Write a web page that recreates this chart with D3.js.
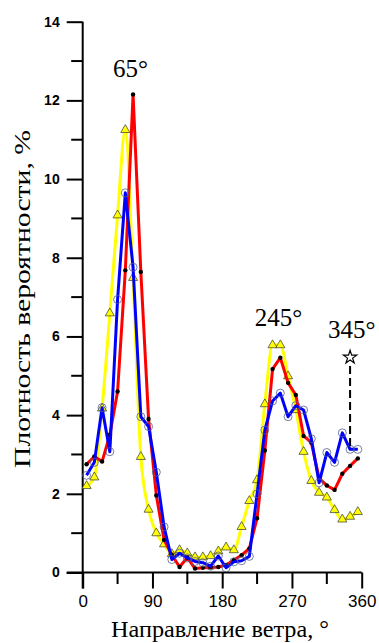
<!DOCTYPE html>
<html>
<head>
<meta charset="utf-8">
<script src="https://cdn.jsdelivr.net/npm/d3@7"></script>
<style>
  body { margin: 0; background: #fff; }
  svg { display: block; }
</style>
</head>
<body>
<div id="chart"></div>
<script>
// wind direction, degrees
const angles = [5, 15, 25, 35, 45, 55, 65, 75, 85, 95, 105, 115, 125, 135, 145, 155, 165, 175,
  185, 195, 205, 215, 225, 235, 245, 255, 265, 275, 285, 295, 305, 315, 325, 335, 345, 355];

// probability density, %
const redValues = [2.75, 2.95, 2.82, 3.5, 4.6, 7.68, 12.15, 7.64, 3.9, 1.96, 0.83, 0.45, 0.14, 0.38, 0.1, 0.12, 0.13, 0.14,
  0.19, 0.32, 0.44, 0.61, 1.38, 3.1, 5.17, 5.46, 4.82, 4.51, 3.47, 3.3, 2.4, 2.21, 2.1, 2.51, 2.71, 2.9];
const blueValues = [2.47, 2.8, 4.19, 3.07, 6.94, 9.65, 7.76, 3.96, 3.71, 2.55, 1.16, 0.33, 0.49, 0.37, 0.28, 0.25, 0.16, 0.42,
  0.12, 0.27, 0.3, 0.41, 2.0, 3.62, 4.36, 4.56, 3.96, 4.24, 4.13, 3.4, 2.28, 3.05, 2.8, 3.55, 3.13, 3.13];
const yellowValues = [2.2, 2.42, 4.17, 6.59, 9.08, 11.25, 7.49, 2.94, 1.6, 1.0, 0.72, 0.47, 0.57, 0.49, 0.39, 0.39, 0.42, 0.54,
  0.64, 0.57, 1.16, 1.82, 2.35, 4.28, 5.78, 5.78, 4.99, 4.13, 3.07, 2.33, 2.03, 1.91, 1.59, 1.35, 1.42, 1.54];

const xTicks = [0, 90, 180, 270, 360];
const yTicks = [0, 2, 4, 6, 8, 10, 12, 14];

// peak labels
const labelText = ['65°', '245°', '345°'];
const labelAngle = [65, 245, 345];
const labelValue = [12.6, 6.27, 5.95];
const labelShift = [-2.6, 6, 1.7];

// star marker at 345
const starAngle = 345;
const starValue = 5.47;
const dashFrom = 5.25;
const dashTo = 3.15;

const width = 379, height = 643;
const margin = { top: 21.7, right: 17.3, bottom: 70.5, left: 82.7 };

const svg = d3.select('#chart').append('svg')
  .attr('width', width)
  .attr('height', height);

const x = d3.scaleLinear().domain([0, 360]).range([margin.left, width - margin.right]);
const y = d3.scaleLinear().domain([0, 14]).range([height - margin.bottom, margin.top]);

// axes
const xAxis = svg.append('g')
  .attr('transform', `translate(0,${y(0)})`)
  .call(d3.axisBottom(x).tickValues(xTicks).tickSize(16).tickPadding(6).tickSizeOuter(0));
xAxis.append('g').selectAll('line')
  .data([45, 135, 225, 315])
  .join('line')
  .attr('x1', d => x(d)).attr('x2', d => x(d))
  .attr('y1', 0).attr('y2', 11.5)
  .attr('stroke', '#000').attr('stroke-width', 2);
xAxis.select('.domain').attr('d', `M${x(0) - 16},0H${x(360)}`);
xAxis.selectAll('.tick line').attr('stroke-width', 2);
xAxis.selectAll('.tick text')
  .attr('font-family', 'Arial, "Liberation Sans", sans-serif')
  .attr('font-size', 17)
  .attr('fill', '#000');

const yAxis = svg.append('g')
  .attr('transform', `translate(${x(0)},0)`)
  .call(d3.axisLeft(y).tickValues(yTicks).tickSize(16).tickPadding(7).tickSizeOuter(0));
yAxis.append('g').selectAll('line')
  .data([1, 3, 5, 7, 9, 11, 13])
  .join('line')
  .attr('y1', d => y(d)).attr('y2', d => y(d))
  .attr('x1', 0).attr('x2', -11.5)
  .attr('stroke', '#000').attr('stroke-width', 2);
yAxis.select('.domain').attr('d', `M0,${y(0) + 16}V${y(14)}`);
yAxis.selectAll('.tick line').attr('stroke-width', 2);
yAxis.selectAll('.tick text')
  .attr('font-family', 'Arial, "Liberation Sans", sans-serif')
  .attr('font-size', 14)
  .attr('font-weight', 'bold')
  .attr('fill', '#000');
svg.selectAll('.domain').attr('stroke', '#000').attr('stroke-width', 2);

// axis titles
svg.append('text')
  .attr('x', 220)
  .attr('y', 637)
  .attr('text-anchor', 'middle')
  .attr('font-family', '"Liberation Serif", "Times New Roman", serif')
  .attr('font-size', 23)
  .attr('textLength', 218)
  .attr('lengthAdjust', 'spacingAndGlyphs')
  .text('Направление ветра, °');

svg.append('text')
  .attr('transform', 'translate(30,299) rotate(-90)')
  .attr('text-anchor', 'middle')
  .attr('font-family', '"Liberation Serif", "Times New Roman", serif')
  .attr('font-size', 24)
  .attr('textLength', 338)
  .attr('lengthAdjust', 'spacingAndGlyphs')
  .text('Плотность вероятности, %');

// series
const series = [
  { values: yellowValues, color: '#ffff00', curve: d3.curveMonotoneX, marker: 'triangle' },
  { values: redValues, color: '#ff0000', curve: d3.curveLinear, marker: 'dot' },
  { values: blueValues, color: '#0000ff', curve: d3.curveLinear, marker: 'circle' }
];

series.forEach(s => {
  const pts = angles.map((a, i) => [a, s.values[i]]);
  const line = d3.line()
    .x(d => x(d[0]))
    .y(d => y(d[1]))
    .curve(s.curve);

  svg.append('path')
    .datum(pts)
    .attr('fill', 'none')
    .attr('stroke', s.color)
    .attr('stroke-width', 3)
    .attr('stroke-linejoin', 'round')
    .attr('d', line);

  const g = svg.append('g');
  if (s.marker === 'triangle') {
    g.selectAll('path')
      .data(pts)
      .join('path')
      .attr('transform', d => `translate(${x(d[0])},${y(d[1])})`)
      .attr('d', d3.symbol(d3.symbolTriangle, 36))
      .attr('fill', '#ffff00')
      .attr('stroke', '#333')
      .attr('stroke-width', 0.7);
  } else if (s.marker === 'dot') {
    g.selectAll('circle')
      .data(pts)
      .join('circle')
      .attr('cx', d => x(d[0]))
      .attr('cy', d => y(d[1]))
      .attr('r', 2.2)
      .attr('fill', '#000');
  } else {
    g.selectAll('circle')
      .data(pts)
      .join('circle')
      .attr('cx', d => x(d[0]))
      .attr('cy', d => y(d[1]))
      .attr('r', 4)
      .attr('fill', 'none')
      .attr('stroke', '#55608a')
      .attr('stroke-width', 0.8);
  }
});

// dashed marker line + star
svg.append('line')
  .attr('x1', x(starAngle)).attr('x2', x(starAngle))
  .attr('y1', y(dashFrom)).attr('y2', y(dashTo))
  .attr('stroke', '#000')
  .attr('stroke-width', 2)
  .attr('stroke-dasharray', '8,4');

svg.append('path')
  .attr('transform', `translate(${x(starAngle)},${y(starValue)})`)
  .attr('d', d3.symbol(d3.symbolStar, 55))
  .attr('fill', '#fff')
  .attr('stroke', '#000')
  .attr('stroke-width', 1.2);

// peak labels
svg.append('g').selectAll('text')
  .data(labelText)
  .join('text')
  .attr('x', (d, i) => x(labelAngle[i]) + labelShift[i])
  .attr('y', (d, i) => y(labelValue[i]))
  .attr('text-anchor', 'middle')
  .attr('font-family', '"Liberation Serif", "Times New Roman", serif')
  .attr('font-size', 25)
  .text(d => d);
</script>
</body>
</html>
